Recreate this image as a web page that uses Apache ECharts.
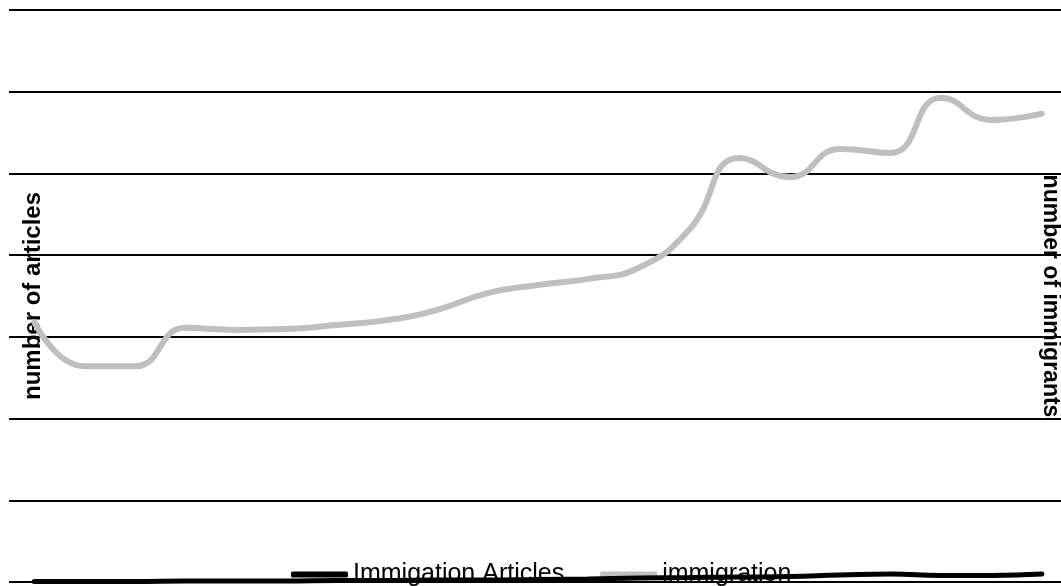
<!DOCTYPE html>
<html>
<head>
<meta charset="utf-8">
<style>
  html, body { margin: 0; padding: 0; background: #fff; }
  #chart { width: 1061px; height: 586px; }
</style>
<script src="https://cdn.jsdelivr.net/npm/echarts@6/dist/echarts.min.js"></script>
</head>
<body>
<div id="chart"></div>
<script>
// Years covered by both series
const years = ['1990','1991','1992','1993','1994','1995','1996','1997','1998','1999','2000',
               '2001','2002','2003','2004','2005','2006','2007','2008','2009','2010'];

// Newspaper articles about immigration per year (left axis)
const articles = [6, 6, 6, 12, 12, 12, 18, 18, 24, 24, 31, 37, 49, 55, 61, 67, 86, 98, 80, 80, 98];

// Immigrants admitted per year (right axis)
const immigrants = [636000, 528000, 528000, 622000, 617000, 619000, 629000, 641000, 666000, 707000,
                    727000, 742000, 769000, 862000, 1038000, 991000, 1060000, 1050000, 1185000, 1131000, 1146000];

// Axis ranges (no tick labels are shown, only the gridlines)
const articleAxis = { min: 0, max: 7000, interval: 1000 };
const immigrantAxis = { min: 0, max: 1400000, interval: 200000 };

const chart = echarts.init(document.getElementById('chart'), null, { renderer: 'canvas' });

chart.setOption({
  animation: false,
  backgroundColor: '#ffffff',
  textStyle: { fontFamily: '"Liberation Sans", Arial, sans-serif' },
  grid: {
    left: 9, right: -6, top: 10, bottom: 4,
    containLabel: false,
    outerBoundsMode: 'none'
  },
  legend: {
    left: 286,
    top: 557,
    z: 1,
    itemWidth: 57,
    itemHeight: 6,
    itemGap: 36,
    icon: 'roundRect',
    textStyle: { fontSize: 25, color: '#000' },
    data: ['Immigation Articles', 'immigration']
  },
  xAxis: {
    type: 'category',
    data: years,
    boundaryGap: true,
    axisLine: { show: false },
    axisTick: { show: false },
    axisLabel: { show: false },
    splitLine: { show: false }
  },
  yAxis: [
    {
      type: 'value',
      position: 'left',
      min: articleAxis.min,
      max: articleAxis.max,
      interval: articleAxis.interval,
      name: 'number of articles',
      nameLocation: 'middle',
      nameRotate: 90,
      nameGap: -36,
      nameTextStyle: { fontSize: 24, fontWeight: 'bold', color: '#000' },
      axisLine: { show: false },
      axisTick: { show: false },
      axisLabel: { show: false },
      splitLine: { show: true, lineStyle: { color: '#000', width: 2 } }
    },
    {
      type: 'value',
      position: 'right',
      min: immigrantAxis.min,
      max: immigrantAxis.max,
      interval: immigrantAxis.interval,
      name: 'number of immigrants',
      nameLocation: 'middle',
      nameRotate: -90,
      nameGap: -28,
      nameTextStyle: { fontSize: 23, fontWeight: 'bold', color: '#000' },
      axisLine: { show: false },
      axisTick: { show: false },
      axisLabel: { show: false },
      splitLine: { show: false }
    }
  ],
  series: [
    {
      name: 'Immigation Articles',
      type: 'line',
      yAxisIndex: 0,
      data: articles,
      smooth: true,
      showSymbol: false,
      color: '#000000',
      lineStyle: { color: '#000000', width: 5, cap: 'round' },
      z: 3
    },
    {
      name: 'immigration',
      type: 'line',
      yAxisIndex: 1,
      data: immigrants,
      smooth: true,
      showSymbol: false,
      color: '#bfbfbf',
      lineStyle: { color: '#bfbfbf', width: 6, cap: 'round' },
      z: 4
    }
  ]
});
</script>
</body>
</html>
